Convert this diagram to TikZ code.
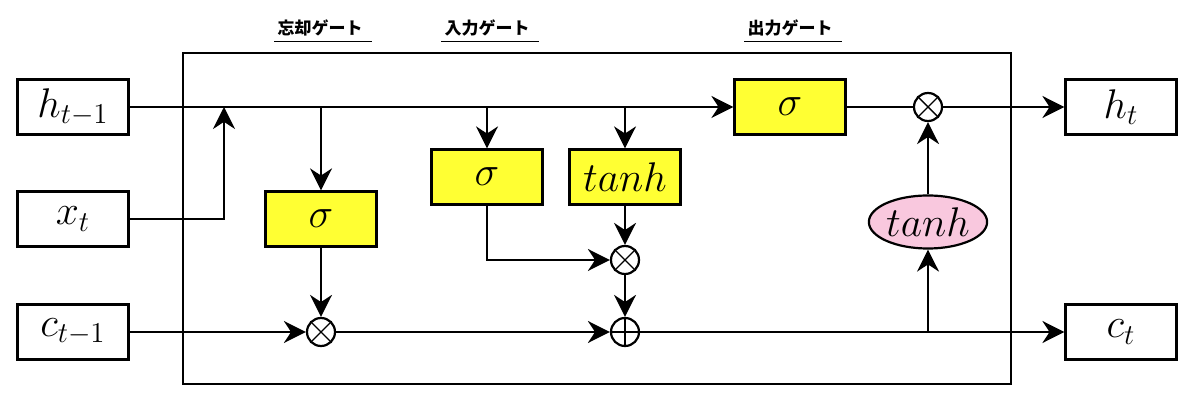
\documentclass[tikz,border=0pt]{standalone}
\usepackage{fontspec}
\newfontfamily\jpfont{Noto Sans CJK JP}
\usetikzlibrary{arrows.meta,shapes.geometric}
\definecolor{gateyellow}{HTML}{FFFF33}
\definecolor{actpink}{HTML}{F9C8DE}
\tikzset{
  inbox/.style={draw, line width=1.1pt, minimum width=55.5pt, minimum height=27.5pt, inner sep=0pt},
  gatebox/.style={inbox, fill=gateyellow},
  opnode/.style={draw, circle, line width=1.1pt, fill=white, minimum size=14pt, inner sep=0pt},
  actnode/.style={draw, ellipse, line width=1.1pt, fill=actpink, minimum width=55.5pt, minimum height=26.5pt, inner sep=0pt},
  gatelabel/.style={font=\jpfont\bfseries\fontsize{8.5}{10}\selectfont, inner sep=1pt, anchor=base}
}
\begin{document}
\begin{tikzpicture}[x=0.5pt, y=-0.5pt, >={Stealth[length=11pt,width=11pt]}, line width=1.1pt, font=\fontsize{20}{24}\selectfont]
  \useasboundingbox (0,0) rectangle (1200,406);
  % 外枠
  \draw (183,53) rectangle (1011,384);
  % 入出力
  \node[inbox] (hprev) at (73,107) {$h_{t-1}$};
  \node[inbox] (xt) at (73,219) {$x_t$};
  \node[inbox] (cprev) at (73,332) {$c_{t-1}$};
  \node[inbox] (ht) at (1121,107) {$h_t$};
  \node[inbox] (ct) at (1121,332) {$c_t$};
  % ゲート
  \node[gatebox] (fsig) at (321,219) {$\sigma$};
  \node[gatebox] (isig) at (487,177) {$\sigma$};
  \node[gatebox] (itanh) at (625,177) {$tanh$};
  \node[gatebox] (osig) at (790,107) {$\sigma$};
  \node[actnode] (otanh) at (928,222) {$tanh$};
  % 演算
  \node[opnode] (fmul) at (321,332) {};
  \node[opnode] (imul) at (625,260) {};
  \node[opnode] (add) at (625,332) {};
  \node[opnode] (omul) at (928,107) {};
  \foreach \n in {fmul,imul,omul}
    \draw[line width=0.7pt] (\n.north west) -- (\n.south east) (\n.north east) -- (\n.south west);
  \draw[line width=0.7pt] (add.north) -- (add.south) (add.west) -- (add.east);
  % ラベル
  \node[gatelabel] (flabel) at (320,35) {忘却ゲート};
  \node[gatelabel] (ilabel) at (487,35) {入力ゲート};
  \node[gatelabel] (olabel) at (790,35) {出力ゲート};
  \foreach \n in {flabel,ilabel,olabel}
    \draw[line width=0.6pt] ([yshift=-1pt]\n.south west) -- ([xshift=3pt,yshift=-1pt]\n.south east);
  % 接続
  \coordinate (hx) at (224,107);
  \draw[->] (hprev) -- (osig);
  \draw[->] (xt) -| (hx);
  \draw[->] (fsig |- hprev) -- (fsig);
  \draw[->] (isig |- hprev) -- (isig);
  \draw[->] (itanh |- hprev) -- (itanh);
  \draw[->] (fsig) -- (fmul);
  \draw[->] (cprev) -- (fmul);
  \draw[->] (fmul) -- (add);
  \draw[->] (itanh) -- (imul);
  \draw[->] (isig) |- (imul);
  \draw[->] (imul) -- (add);
  \draw[->] (add) -- (ct);
  \draw[->] (otanh |- add) -- (otanh);
  \draw[->] (otanh) -- (omul);
  \draw (osig) -- (omul);
  \draw[->] (omul) -- (ht);
\end{tikzpicture}
\end{document}
